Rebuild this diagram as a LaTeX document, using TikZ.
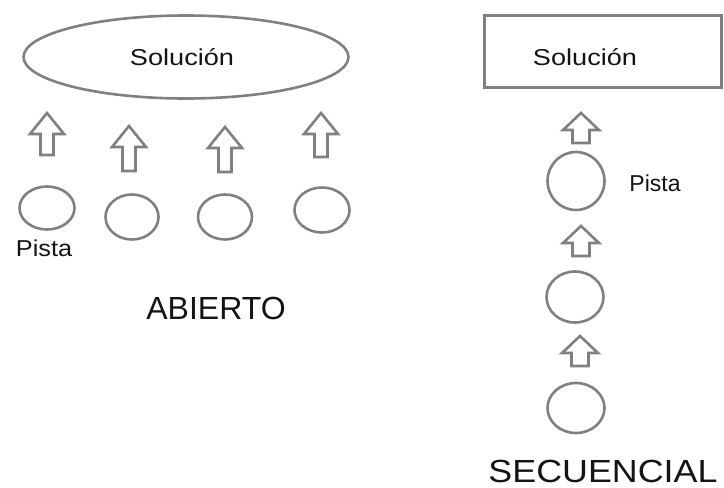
\documentclass[tikz,border=0pt]{standalone}
\usepackage{fontspec}
\setmainfont{Liberation Sans}
\usetikzlibrary{shapes.geometric}
\definecolor{edgegray}{RGB}{128,128,128}
\definecolor{txt}{RGB}{20,20,20}
\newcommand{\widetext}[2]{\scalebox{#1}[1]{#2}}
\tikzset{
  x=1pt, y=-1pt,
  outl/.style={draw=edgegray, line width=2.6pt},
  oval/.style={outl, ellipse, inner sep=0pt},
  lbl/.style={text=txt, font=\fontsize{23}{26}\selectfont, inner sep=0pt},
  big/.style={text=txt, font=\fontsize{32}{36}\selectfont, inner sep=0pt},
  pics/blockup/.style n args={5}{code={%
    \draw[outl, line join=miter] (0,0) -- (#2,#4) -- (#3,#4) -- (#3,#1) -- (-#3,#1) -- (-#3,#4) -- (-#2,#4) -- cycle;
  }},
}
\begin{document}
\begin{tikzpicture}
\useasboundingbox (0,0) rectangle (724,488);
% ---- ABIERTO ----
\node[oval, minimum width=325pt, minimum height=83pt] (solA) at (186,57) {};
\node[lbl] (solAt) at (182,57) {\widetext{1.18}{Solución}};
\node[oval, minimum width=55pt, minimum height=43pt] (a1) at (47,208) {};
\node[oval, minimum width=53pt, minimum height=45pt] (a2) at (132,217) {};
\node[oval, minimum width=54pt, minimum height=45pt] (a3) at (225,217) {};
\node[oval, minimum width=55pt, minimum height=45pt] (a4) at (322,210) {};
\pic at (47,113) {blockup={42}{17}{6.5}{21}{}};
\pic at (129,126) {blockup={45}{17}{6.5}{21}{}};
\pic at (225,127) {blockup={45}{17}{6.5}{21}{}};
\pic at (321,113) {blockup={44}{17}{6.5}{21}{}};
\node[lbl] (pistaA) at (44,248) {\widetext{1.1}{Pista}};
\node[big] (abierto) at (216,308) {ABIERTO};
% ---- SECUENCIAL ----
\node[outl, rectangle, minimum width=237pt, minimum height=72pt, inner sep=0pt] (solB) at (603,51.5) {};
\node[lbl] (solBt) at (585,57) {\widetext{1.18}{Solución}};
\node[oval, minimum width=57pt, minimum height=58pt] (b1) at (576,181) {};
\node[oval, minimum width=57pt, minimum height=51pt] (b2) at (575,297) {};
\node[oval, minimum width=57pt, minimum height=50pt] (b3) at (576,408) {};
\pic at (581,113) {blockup={30}{18}{8.5}{17}{}};
\pic at (581,226) {blockup={30}{18}{8.5}{17}{}};
\pic at (580,336) {blockup={30}{18}{8.5}{17}{}};
\node[lbl] (pistaB) at (655,183) {Pista};
\node[big, anchor=base] (secuencial) at (603,482) {\widetext{1.12}{SECUENCIAL}};
\end{tikzpicture}
\end{document}
